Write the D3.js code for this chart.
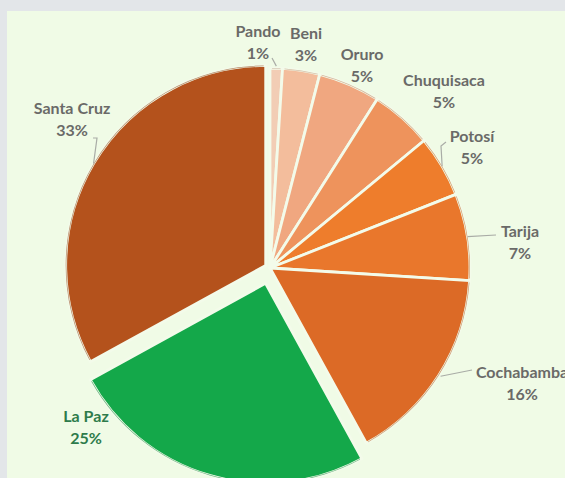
<!DOCTYPE html>
<html>
<head>
<meta charset="utf-8">
<script src="https://cdn.jsdelivr.net/npm/d3@7"></script>
<style>
  html, body { margin: 0; padding: 0; background: #e3e6e9; }
  svg { display: block; }
  text { font-family: Lato, "Open Sans", sans-serif; font-weight: 700; }
</style>
</head>
<body>
<svg id="chart" width="565" height="478"></svg>
<script>
// ---- data ----
const categories = ["Pando", "Beni", "Oruro", "Chuquisaca", "Potosí", "Tarija", "Cochabamba", "La Paz", "Santa Cruz"];
const values = [1, 3, 5, 5, 5, 7, 16, 25, 33];
const percentLabels = ["1%", "3%", "5%", "5%", "5%", "7%", "16%", "25%", "33%"];

// ---- styles / layout ----
const sliceColors = ["#f2cdb5", "#f3bd9c", "#f0a780", "#ee935c", "#ee7d2c", "#e9772c", "#dc6a26", "#14a84a", "#b4521c"];
const explode = [0, 0, 0, 0, 0, 0, 0, 16, 5];
// label anchor (center x, first baseline y)
const labelAt = [[258, 37], [306, 39], [362, 60], [444, 86], [472, 142], [520, 237], [522, 378], [86, 422], [72, 114]];
// leader end points (null = no leader)
const leaderEnd = [[[272, 58]], null, null, null, [[441, 146], [446, 142]], [[496, 235]], [[472, 370]], null, [[97, 138], [93, 138]]];
const leaderRadiusAdj = [2, 0, 0, 0, 0, 0, 2, 0, 0];

const W = 565, H = 478;
const cx = 270, cy = 268, R = 200;

const svg = d3.select("#chart");
svg.append("rect").attr("x", 0).attr("y", 0).attr("width", W).attr("height", H).attr("fill", "#e3e6e9");
svg.append("rect").attr("x", 7).attr("y", 11).attr("width", W - 7).attr("height", H - 11).attr("fill", "#f0fbe6");

const pie = d3.pie().sort(null).value(d => d.value);
const data = categories.map((c, i) => ({ name: c, value: values[i], pct: percentLabels[i], i }));
const arcs = pie(data);
const arc = d3.arc().innerRadius(0).outerRadius(R);
const rim = d3.arc().innerRadius(R - 0.7).outerRadius(R);

const g = svg.append("g").attr("transform", `translate(${cx},${cy})`);

const sl = g.selectAll("g.slice")
  .data(arcs)
  .join("g")
  .attr("class", "slice")
  .attr("transform", d => {
    const m = (d.startAngle + d.endAngle) / 2;
    const e = explode[d.data.i];
    return `translate(${e * Math.sin(m)},${-e * Math.cos(m)})`;
  });

sl.append("path")
  .attr("d", arc)
  .attr("fill", d => sliceColors[d.data.i])
  .attr("stroke", "#f3fbea")
  .attr("stroke-width", 2.8)
  .attr("stroke-linejoin", "round");

// faint darker rim on outer edge
sl.append("path")
  .attr("d", d => rim({ startAngle: d.startAngle + 0.01, endAngle: d.endAngle - 0.01 }))
  .attr("fill", d => d3.color(sliceColors[d.data.i]).darker(0.6))
  .attr("opacity", 0.6);

// leader lines
arcs.forEach(d => {
  const ends = leaderEnd[d.data.i];
  if (!ends) return;
  const m = (d.startAngle + d.endAngle) / 2;
  const e = explode[d.data.i];
  const rr = R + e + leaderRadiusAdj[d.data.i];
  const start = [cx + rr * Math.sin(m), cy - rr * Math.cos(m)];
  const pts = [start].concat(ends);
  svg.append("path")
    .attr("d", d3.line()(pts))
    .attr("fill", "none")
    .attr("stroke", "#a9aca6")
    .attr("stroke-width", 1.2);
});

// labels
const lbl = svg.selectAll("g.lbl")
  .data(arcs)
  .join("g")
  .attr("class", "lbl")
  .attr("transform", d => `translate(${labelAt[d.data.i][0]},${labelAt[d.data.i][1]})`);

const col = d => d.data.name === "La Paz" ? "#2e7b4b" : "#6a6a68";

lbl.append("text")
  .attr("text-anchor", "middle")
  .attr("font-size", 16)
  .attr("fill", col)
  .text(d => d.data.name);

lbl.append("text")
  .attr("text-anchor", "middle")
  .attr("y", 22)
  .attr("font-size", 16)
  .attr("fill", col)
  .text(d => d.data.pct);
</script>
</body>
</html>
